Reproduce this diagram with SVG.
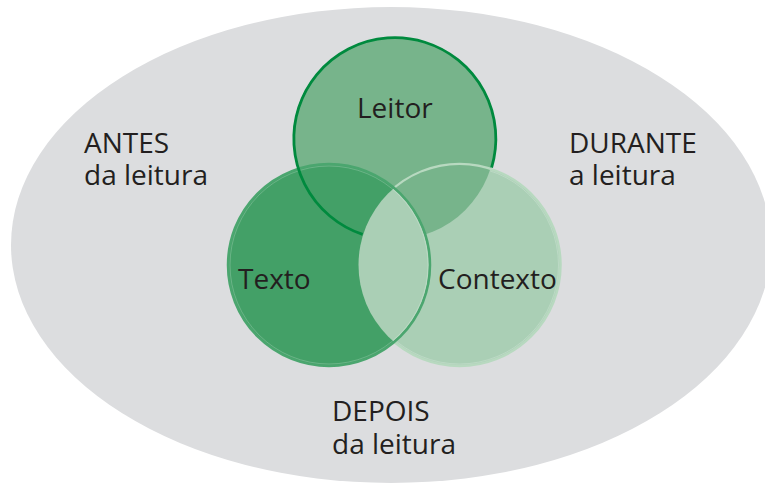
<svg xmlns="http://www.w3.org/2000/svg" width="765" height="483" viewBox="0 0 765 483">
<style>
  text { font-family: "Open Sans", "Noto Sans", "Liberation Sans", sans-serif; font-size: 28px; fill: #231f20; }
  .leitorFill { fill: #77b48b; }
  .textoFill { fill: #43a067; }
  .contextoFill { fill: #aacfb5; }
  .brilho { fill: none; stroke: #ffffff; stroke-opacity: 0.3; stroke-width: 0.7; }
</style>
<defs>
  <clipPath id="clipContexto"><circle cx="459.5" cy="265" r="100"/></clipPath>
  <clipPath id="clipTexto"><circle cx="329" cy="265" r="100"/></clipPath>
</defs>
<rect x="0" y="0" width="765" height="483" fill="#ffffff"/>
<ellipse id="fundo" cx="391" cy="245" rx="380" ry="238" fill="#dcdddf"/>

<g id="circulos">
  <g id="node-leitor">
    <circle class="leitorFill" cx="394" cy="138.5" r="101"/>
  </g>
  <g id="node-contexto">
    <circle class="contextoFill" cx="459.5" cy="265" r="101" stroke="#b8d9c0" stroke-width="2.5"/>
    <circle class="brilho" cx="459.5" cy="265" r="99"/>
    <circle class="leitorFill" cx="394" cy="138.5" r="101" clip-path="url(#clipContexto)"/>
  </g>
  <g id="node-texto">
    <circle class="textoFill" cx="329" cy="265" r="101"/>
    <circle class="contextoFill" cx="459.5" cy="265" r="101" clip-path="url(#clipTexto)"/>
    <circle cx="329" cy="265" r="101" fill="none" stroke="#4ba66f" stroke-width="2.5"/>
    <circle class="brilho" cx="329" cy="265" r="99"/>
  </g>
  <g id="contorno-leitor">
    <path d="M491.6,167.6 A101,101 0 1 0 362.6,234.4" fill="none" stroke="#008a3e" stroke-width="2.8"/>
  </g>
</g>

<g id="rotulos">
  <text x="357" y="118">Leitor</text>
  <text x="238" y="289">Texto</text>
  <text x="438" y="289">Contexto</text>
  <text id="antes" x="84" y="153">ANTES<tspan x="84" y="184.5">da leitura</tspan></text>
  <text id="durante" x="569" y="153">DURANTE<tspan x="569" y="184.5">a leitura</tspan></text>
  <text id="depois" x="332" y="421">DEPOIS<tspan x="332" y="454">da leitura</tspan></text>
</g>
</svg>
